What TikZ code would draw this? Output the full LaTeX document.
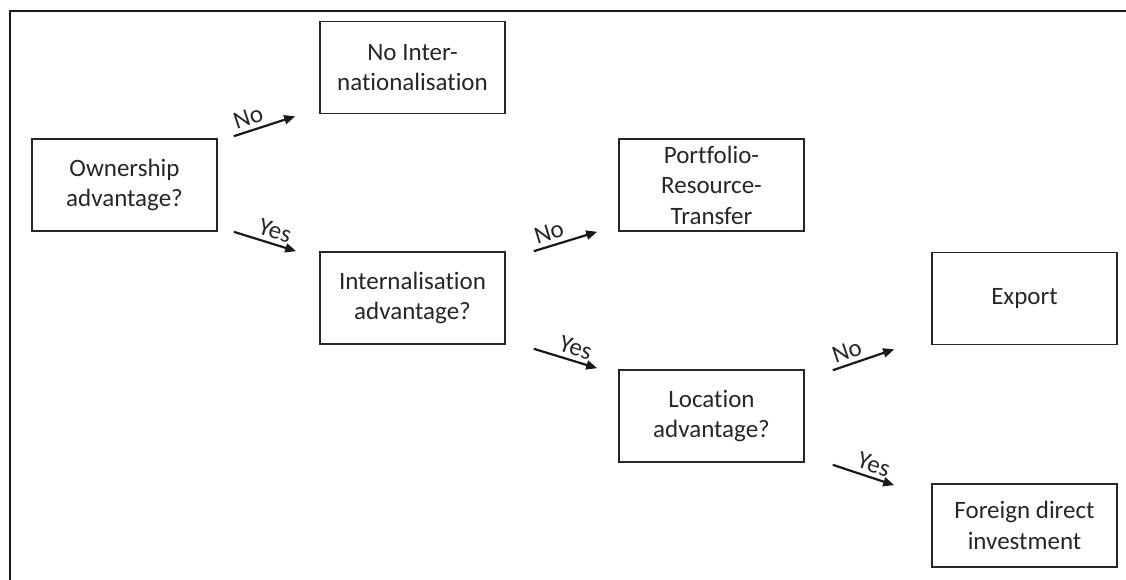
\documentclass[tikz,border=0pt]{standalone}
\usepackage{fontspec}
\setmainfont{Carlito}[Ligatures=NoCommon]
\usetikzlibrary{calc,arrows.meta}
\begin{document}
\begin{tikzpicture}[x=1pt,y=-1pt,
  box/.style={draw=black!85,line width=1.6pt,minimum width=185pt,minimum height=92pt,
    align=center,inner sep=0pt,font=\fontsize{25}{30.5}\selectfont,text=black!85},
  flow/.style={line width=2.2pt,draw=black!90,-{Triangle[length=11pt,width=9pt]}},
  lbl/.style={above,sloped,inner sep=4pt,font=\fontsize{25}{28}\selectfont,text=black!85}]
\useasboundingbox (0,0) rectangle (1126,580);
% frame
\draw[line width=2.2pt,black!90] (10,580) -- (10,11) -- (1126,11);
% decision boxes and outcomes
\node[box] (own) at (124.5,185) {Ownership\\advantage?};
\node[box] (noint) at (412.5,67.5) {No Inter-\\nationalisation};
\node[box] (intern) at (412.5,298) {Internalisation\\advantage?};
\node[box] (port) at (711.5,185) {Portfolio-\\Resource-\\Transfer};
\node[box] (loc) at (711.5,416) {Location\\advantage?};
\node[box] (exp) at (1024.5,298.5) {Export};
\node[box,minimum height=83pt] (fdi) at (1024.5,525.5) {Foreign direct\\investment};
% connectors
\draw[flow] ($(own.north east)+(16,-2)$) -- node[lbl,pos=0.3]{No} ($(noint.south west)+(-24,2)$);
\draw[flow] ($(own.south east)+(16,0)$) -- node[lbl,pos=0.6]{Yes} ($(intern.north west)+(-23,0)$);
\draw[flow] ($(intern.north east)+(28,0)$) -- node[lbl,pos=0.3]{No} ($(port.south west)+(-21,0)$);
\draw[flow] ($(intern.south east)+(28,4)$) -- node[lbl,pos=0.6]{Yes} ($(loc.north west)+(-21,-1)$);
\draw[flow] ($(loc.north east)+(28,1)$) -- node[lbl,pos=0.3]{No} ($(exp.south west)+(-37,4)$);
\draw[flow] ($(loc.south east)+(28,2)$) -- node[lbl,pos=0.6]{Yes} ($(fdi.north west)+(-37,2)$);
\end{tikzpicture}
\end{document}
